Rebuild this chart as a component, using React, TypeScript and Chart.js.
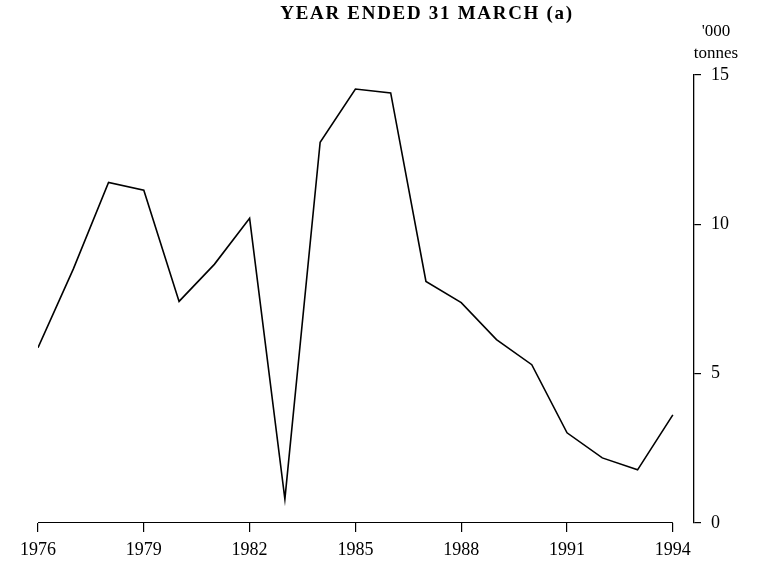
import React, { useEffect, useRef } from "react";
import { Chart, registerables } from "chart.js";

Chart.register(...registerables);

const years = [1976, 1977, 1978, 1979, 1980, 1981, 1982, 1983, 1984, 1985, 1986, 1987, 1988, 1989, 1990, 1991, 1992, 1993, 1994];
const tonnes = [5.87, 8.5, 11.4, 11.14, 7.42, 8.66, 10.2, 0.8, 12.75, 14.53, 14.4, 8.09, 7.38, 6.14, 5.3, 3.02, 2.18, 1.78, 3.62];
const xTickYears = [1976, 1979, 1982, 1985, 1988, 1991, 1994];
const yTickValues = [0, 5, 10, 15];
const titleText = "YEAR ENDED 31 MARCH (a)";
const unitLines = ["'000", "tonnes"];

const FONT = "'Liberation Serif', 'DejaVu Serif', serif";

const decorPlugin = {
  id: "decor",
  afterDraw(chart: any) {
    const ctx = chart.ctx;
    const xs = chart.scales.x;
    const area = chart.chartArea;
    ctx.save();
    // x-axis baseline from first to last year
    ctx.strokeStyle = "#000";
    ctx.lineWidth = 1.2;
    ctx.beginPath();
    ctx.moveTo(xs.getPixelForValue(1976), area.bottom - 0.5);
    ctx.lineTo(xs.getPixelForValue(1994), area.bottom - 0.5);
    ctx.stroke();
    // title
    ctx.fillStyle = "#000";
    ctx.font = `bold 19px ${FONT}`;
    (ctx as any).letterSpacing = "1.7px";
    ctx.textAlign = "center";
    ctx.textBaseline = "middle";
    ctx.fillText(titleText, 427, 14);
    (ctx as any).letterSpacing = "0px";
    // unit label
    ctx.font = `17px ${FONT}`;
    ctx.fillText(unitLines[0], 716, 32);
    ctx.fillText(unitLines[1], 716, 54);
    ctx.restore();
  },
};

export default function App() {
  const ref = useRef<HTMLCanvasElement>(null);
  useEffect(() => {
    if (!ref.current) return;
    const chart = new Chart(ref.current, {
      type: "line",
      data: {
        datasets: [
          {
            data: years.map((y, i) => ({ x: y, y: tonnes[i] })),
            borderColor: "#000",
            borderWidth: 1.6,
            pointRadius: 0,
            tension: 0,
            fill: false,
          },
        ],
      },
      options: {
        responsive: false,
        animation: false,
        layout: { padding: { left: 38, top: 75, right: 0, bottom: 0 } },
        plugins: { legend: { display: false }, tooltip: { enabled: false }, title: { display: false } },
        scales: {
          x: {
            type: "linear",
            min: 1976,
            max: 1994.6,
            afterBuildTicks: (scale: any) => {
              scale.ticks = xTickYears.map((v) => ({ value: v }));
            },
            afterFit: (scale: any) => {
              scale.height = 38;
            },
            border: { display: false },
            grid: { drawOnChartArea: false, drawTicks: true, tickLength: 9, color: "#000", lineWidth: 1.2 },
            ticks: {
              autoSkip: false,
              maxRotation: 0,
              padding: 7,
              color: "#000",
              font: { family: FONT, size: 18 },
              callback: (v: any) => String(v),
            },
          },
          y: {
            position: "right",
            min: 0,
            max: 15,
            afterBuildTicks: (scale: any) => {
              scale.ticks = yTickValues.map((v) => ({ value: v }));
            },
            afterFit: (scale: any) => {
              scale.width = 72;
            },
            border: { display: true, color: "#000", width: 1.3 },
            grid: {
              drawOnChartArea: false,
              drawTicks: true,
              tickLength: 7,
              lineWidth: 1.2,
              color: "#000",
            },
            ticks: {
              padding: 10,
              color: "#000",
              font: { family: FONT, size: 18 },
              callback: (v: any) => String(v),
            },
          },
        },
      },
      plugins: [decorPlugin],
    } as any);
    return () => chart.destroy();
  }, []);
  return (
    <div style={{ position: "fixed", left: 0, top: 0, width: 766, height: 561, background: "#fff" }}>
      <canvas ref={ref} width={766} height={561} style={{ display: "block" }} />
    </div>
  );
}
